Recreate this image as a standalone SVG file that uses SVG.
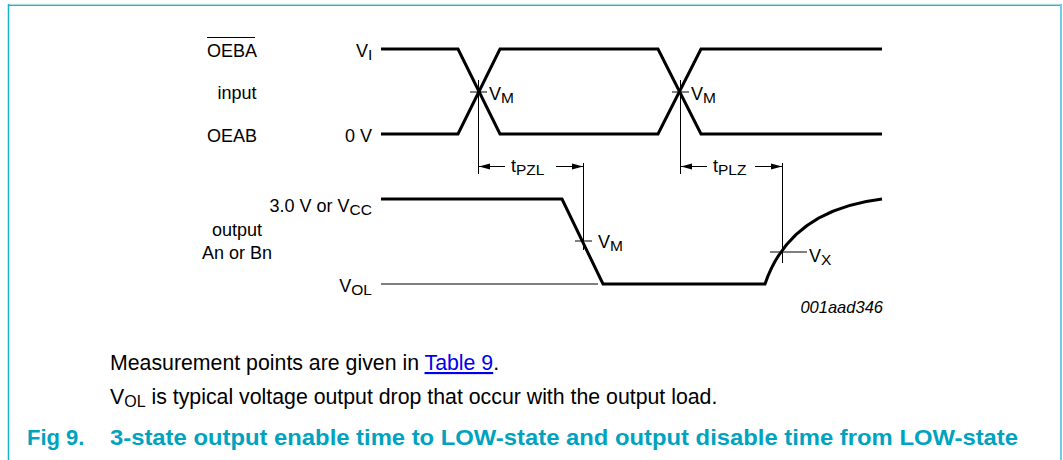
<svg xmlns="http://www.w3.org/2000/svg" width="1063" height="460" viewBox="0 0 1063 460">
<style>
text{font-family:"Liberation Sans",Arial,sans-serif;fill:#000}
.lbl{font-size:18px}
.sub{font-size:15.5px}
.wave{fill:none;stroke:#000;stroke-width:3;stroke-linejoin:miter}
.thin{fill:none;stroke:#000;stroke-width:1}
.note{font-size:21.3px}
.cap{font-size:22px;font-weight:bold;fill:#00a3bf}
</style>
<defs>
<marker id="ah" markerWidth="12" markerHeight="8" refX="11" refY="4" orient="auto" markerUnits="userSpaceOnUse">
<path d="M0,1 L11,4 L0,7 Z" fill="#000"/>
</marker>
</defs>
<g id="frame">
<line x1="8" y1="4.5" x2="1062" y2="4.5" stroke="#a9dde8" stroke-width="1.5"/>
<line x1="8" y1="5.5" x2="1062" y2="5.5" stroke="#27b2c9" stroke-width="1.2"/>
<line x1="8.5" y1="4" x2="8.5" y2="460" stroke="#1ab0c8" stroke-width="1.5"/>
<line x1="1061" y1="4" x2="1061" y2="460" stroke="#6fcfdf" stroke-width="2"/>
</g>
<g id="input-waveforms">
<path class="wave" d="M381,49 H458 L500,134 H658 L701,49 H882"/>
<path class="wave" d="M381,134 H458 L500,49 H658 L701,134 H882"/>
</g>
<g id="output-waveform">
<path class="wave" d="M381,199 H562 L603,284 H765 Q790,210 882,199"/>
<line class="thin" x1="381" y1="284" x2="598" y2="284"/>
</g>
<g id="connectors">
<line class="thin" x1="478.5" y1="80" x2="478.5" y2="174"/>
<line class="thin" x1="470" y1="92" x2="487" y2="92"/>
<line class="thin" x1="680.5" y1="80" x2="680.5" y2="174"/>
<line class="thin" x1="672" y1="92" x2="689" y2="92"/>
<line class="thin" x1="583.5" y1="163" x2="583.5" y2="250"/>
<line class="thin" x1="575" y1="241" x2="592" y2="241"/>
<line class="thin" x1="782.5" y1="163" x2="782.5" y2="263"/>
<line class="thin" x1="770" y1="252" x2="807" y2="252"/>
<line class="thin" x1="505" y1="166.5" x2="479" y2="166.5" marker-end="url(#ah)"/>
<line class="thin" x1="556" y1="166.5" x2="583" y2="166.5" marker-end="url(#ah)"/>
<line class="thin" x1="707" y1="166.5" x2="681" y2="166.5" marker-end="url(#ah)"/>
<line class="thin" x1="755" y1="166.5" x2="782" y2="166.5" marker-end="url(#ah)"/>
</g>
<g id="labels">
<text class="lbl" x="207" y="57">OEBA</text>
<line x1="207" y1="37.5" x2="255" y2="37.5" stroke="#000" stroke-width="1.2"/>
<text class="lbl" x="237" y="99" text-anchor="middle">input</text>
<text class="lbl" x="207" y="142">OEAB</text>
<text class="lbl" x="356" y="57">V<tspan class="sub" dy="3">I</tspan></text>
<text class="lbl" x="372" y="142" text-anchor="end">0 V</text>
<text class="lbl" x="489" y="100">V<tspan class="sub" dy="3">M</tspan></text>
<text class="lbl" x="691" y="100">V<tspan class="sub" dy="3">M</tspan></text>
<text class="lbl" x="511" y="172">t<tspan class="sub" dy="3">PZL</tspan></text>
<text class="lbl" x="713" y="172">t<tspan class="sub" dy="3">PLZ</tspan></text>
<text class="lbl" x="372" y="212" text-anchor="end">3.0 V or V<tspan class="sub" dy="3">CC</tspan></text>
<text class="lbl" x="237" y="236" text-anchor="middle">output</text>
<text class="lbl" x="237" y="259" text-anchor="middle">An or Bn</text>
<text class="lbl" x="372" y="292" text-anchor="end">V<tspan class="sub" dy="3">OL</tspan></text>
<text class="lbl" x="598" y="248">V<tspan class="sub" dy="3">M</tspan></text>
<text class="lbl" x="809" y="262">V<tspan class="sub" dy="3">X</tspan></text>
<text x="883" y="313" text-anchor="end" style="font-size:16.5px;font-style:italic">001aad346</text>
</g>
<g id="notes">
<text class="note" x="110" y="370">Measurement points are given in <tspan fill="#0000ee" text-decoration="underline">Table 9</tspan>.</text>
<text class="note" x="110" y="404">V<tspan style="font-size:16px" dy="3">OL</tspan><tspan dy="-3"> is typical voltage output drop that occur with the output load.</tspan></text>
<text class="cap" x="27" y="445">Fig 9.</text>
<text class="cap" x="110" y="445" textLength="908" lengthAdjust="spacingAndGlyphs">3-state output enable time to LOW-state and output disable time from LOW-state</text>
</g>
</svg>
